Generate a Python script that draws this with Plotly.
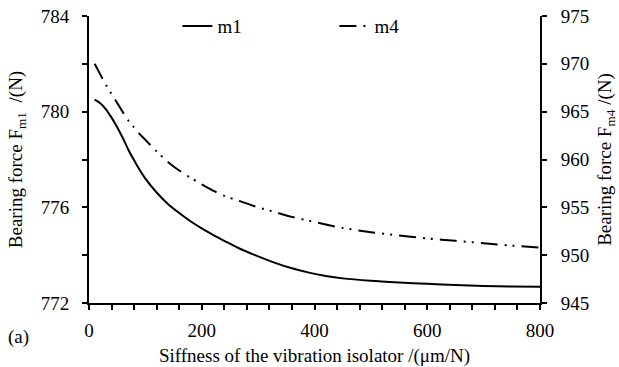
import plotly.graph_objects as go

# Data
stiffness_m1 = [10, 20, 30, 40, 50, 60, 70, 80, 90, 100, 120, 140, 160, 180, 200, 220, 240, 265,
                300, 330, 360, 390, 420, 450, 500, 550, 600, 650, 700, 750, 800]
force_m1 = [780.5, 780.35, 780.1, 779.75, 779.35, 778.9, 778.4, 777.97, 777.56, 777.2, 776.62,
            776.14, 775.76, 775.42, 775.12, 774.85, 774.6, 774.3, 773.95, 773.68, 773.45,
            773.27, 773.13, 773.03, 772.93, 772.86, 772.8, 772.75, 772.71, 772.69, 772.68]

stiffness_m4 = [10, 20, 30, 40, 50, 60, 70, 80, 90, 100, 120, 140, 160, 180, 200, 220, 240, 265,
                300, 330, 360, 390, 420, 450, 500, 550, 600, 650, 700, 750, 800]
force_m4 = [970.0, 968.9, 967.8, 966.85, 965.9, 964.95, 964.05, 963.35, 962.65, 962.05, 960.85,
            959.75, 958.85, 958.1, 957.4, 956.75, 956.2, 955.7, 955.0, 954.5, 954.0, 953.6,
            953.2, 952.85, 952.4, 952.05, 951.75, 951.5, 951.25, 951.0, 950.8]

x_ticks = [0, 200, 400, 600, 800]
y1_ticks = [772, 776, 780, 784]
y2_ticks = [945, 950, 955, 960, 965, 970, 975]

FONT = "Liberation Serif"
FS = 19

fig = go.Figure()
fig.add_trace(go.Scatter(x=stiffness_m1, y=force_m1, mode="lines", name="m1",
                         line=dict(color="black", width=2, shape="spline", smoothing=0.8),
                         yaxis="y"))
fig.add_trace(go.Scatter(x=stiffness_m4, y=force_m4, mode="lines", name="m4",
                         line=dict(color="black", width=2, shape="spline", smoothing=0.8,
                                   dash="17px,7px,2px,6px,2px,7px"),
                         yaxis="y2"))

axis_common = dict(showgrid=False, zeroline=False, showline=True, linecolor="black",
                   linewidth=2, ticks="outside", ticklen=5, tickwidth=1.5, tickcolor="black",
                   automargin=False,
                   tickfont=dict(family=FONT, size=FS, color="black"))

fig.update_layout(
    width=619, height=367,
    margin=dict(l=89, r=79, t=16, b=64, autoexpand=False),
    paper_bgcolor="white", plot_bgcolor="white",
    font=dict(family=FONT, size=FS, color="black"),
    xaxis=dict(range=[0, 800], tickvals=x_ticks,
               minor=dict(dtick=40, ticks="outside", ticklen=5, tickwidth=1.5, tickcolor="black"),
               title=dict(text="Siffness of the vibration isolator /(μm/N)",
                          font=dict(family=FONT, size=FS), standoff=9),
               ticklabelstandoff=4,
               **axis_common),
    yaxis=dict(range=[772, 784], tickvals=y1_ticks,
               minor=dict(dtick=2, ticks="outside", ticklen=5, tickwidth=1.5, tickcolor="black"),
               title=dict(text="Bearing force F<sub>m1</sub>  /(N)",
                          font=dict(family=FONT, size=FS), standoff=13),
               ticklabelstandoff=9,
               **axis_common),
    yaxis2=dict(range=[945, 975], tickvals=y2_ticks, overlaying="y", side="right",
                title=dict(text="Bearing force F<sub>m4</sub> /(N)",
                           font=dict(family=FONT, size=FS), standoff=9),
                ticklabelstandoff=10,
                **axis_common),
    legend=dict(orientation="h", x=0.196, xanchor="left", y=0.965, yanchor="middle",
                bgcolor="rgba(0,0,0,0)", font=dict(family=FONT, size=FS),
                entrywidth=112, entrywidthmode="pixels", itemwidth=30),
    annotations=[dict(text="(a)", xref="paper", yref="paper", x=-0.157, y=-0.12,
                      xanchor="center", yanchor="middle", showarrow=False,
                      font=dict(family=FONT, size=FS))],
)

fig.write_html("out.html", config={"displayModeBar": False},
               post_script="document.body.style.margin='0';")
